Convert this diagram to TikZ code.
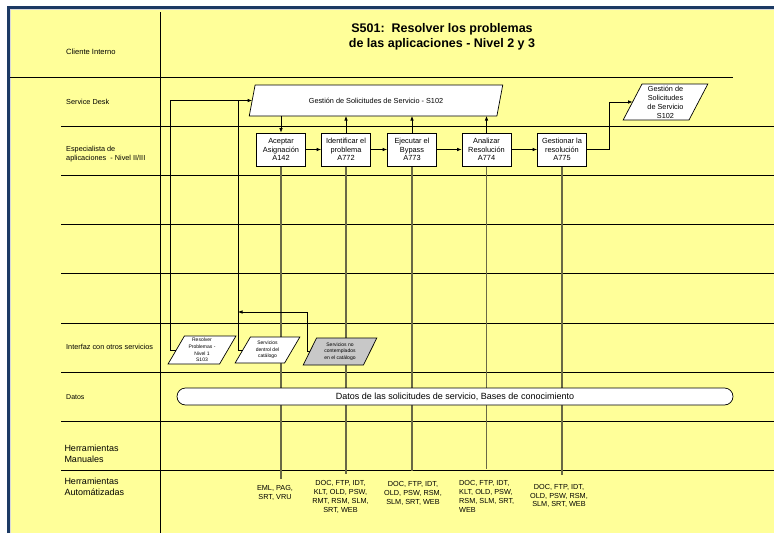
\documentclass[tikz,border=0pt]{standalone}
\usepackage{fontspec}
\setmainfont{Liberation Sans}
\usetikzlibrary{shapes.geometric,arrows.meta}
\pgfdeclarelayer{backdrop}
\pgfdeclarelayer{wires}
\pgfsetlayers{backdrop,wires,main}
\definecolor{laneyellow}{RGB}{255,255,153}
\definecolor{frameblue}{RGB}{28,58,100}
\definecolor{toolline}{RGB}{105,105,70}
\definecolor{extgray}{RGB}{200,200,200}
\begin{document}
\begin{tikzpicture}[x=1pt,y=-1pt,
  lane/.style={line width=0.9pt,black},
  toolwire/.style={line width=1.1pt,toolline,shorten >=6pt},
  flow/.style={line width=0.7pt,-{Latex[length=4.5pt,width=3.6pt]}},
  wire/.style={line width=0.7pt},
  lanelabel/.style={anchor=west,inner sep=0pt,align=left,font=\fontsize{7.3}{9}\selectfont},
  biglabel/.style={anchor=west,inner sep=0pt,align=left,font=\fontsize{9}{10.8}\selectfont},
  activity/.style={draw,fill=white,line width=0.7pt,minimum width=49,minimum height=33,inner sep=0pt,align=center,font=\fontsize{7.4}{8.3}\selectfont},
  pgram/.style={trapezium,trapezium stretches=true,draw,fill=white,line width=0.7pt,inner sep=0.5pt,outer sep=0pt,align=center},
  smallpgram/.style={pgram,font=\fontsize{5}{6.6}\selectfont},
  toollist/.style={inner sep=0pt,align=center,anchor=north,font=\fontsize{7.3}{8.8}\selectfont},
]
\useasboundingbox (0,0) rectangle (774,533);

% page, frame and swimlane grid
\begin{pgfonlayer}{backdrop}
  \fill[white] (0,0) rectangle (774,533);
  \fill[laneyellow] (10,9) rectangle (774,533);
  \draw[black!15,line width=1pt] (10.5,533) -- (10.5,9.5) -- (774,9.5);
  \draw[frameblue,line width=3pt] (8.5,533) -- (8.5,7.5) -- (774,7.5);
  \draw[lane] (10,77) -- (733,77);
  \foreach \yy in {126,175,224,273,323,372,421,470}
    \draw[lane] (61,\yy) -- (774,\yy);
  \draw[lane] (160,12) -- (160,533);
\end{pgfonlayer}

% title
\node[inner sep=0pt,align=center,font=\bfseries\fontsize{12.5}{15}\selectfont] (title) at (442,37)
  {S501:\ \ Resolver los problemas\\de las aplicaciones - Nivel 2 y 3};

% lane labels
\node[lanelabel,font=\fontsize{7.6}{9}\selectfont] (lcli) at (66,51.5) {Cliente Interno};
\node[lanelabel] (lsd) at (66,102) {Service Desk};
\node[lanelabel] (lesp) at (66,154.2) {Especialista de\\aplicaciones\ \ - Nivel II/III};
\node[lanelabel] (lint) at (66,347.3) {Interfaz con otros servicios};
\node[lanelabel,font=\fontsize{7}{9}\selectfont] (ldat) at (66,397.3) {Datos};
\node[biglabel] (lman) at (64.3,453.7) {Herramientas\\Manuales};
\node[biglabel] (laut) at (64.3,486.5) {Herramientas\\Automátizadas};

% Service Desk request management
\node[pgram,trapezium left angle=63,trapezium right angle=117,minimum width=254,minimum height=31,
  font=\fontsize{7.3}{9}\selectfont] (sd) at (376,100.5) {Gestión de Solicitudes de Servicio - S102};
\node[pgram,trapezium left angle=66,trapezium right angle=114,minimum width=85,minimum height=36,
  font=\fontsize{7.3}{9}\selectfont] (gss) at (665.5,102) {Gestión de\\Solicitudes\\de Servicio\\S102};

% activities
\node[activity] (a142) at (281,149.5) {Aceptar\\Asignación\\A142};
\node[activity] (a772) at (346,149.5) {Identificar el\\problema\\A772};
\node[activity] (a773) at (412,149.5) {Ejecutar el\\Bypass\\A773};
\node[activity] (a774) at (486.5,149.5) {Analizar\\Resolución\\A774};
\node[activity] (a775) at (562,149.5) {Gestionar la\\resolución\\A775};

% interfaces with other services
\node[smallpgram,trapezium left angle=62,trapezium right angle=118,minimum width=68,minimum height=28] (res) at (202,350)
  {Resolver\\Problemas -\\Nivel 1\\S103};
\node[smallpgram,trapezium left angle=60,trapezium right angle=120,minimum width=65,minimum height=26] (den) at (267.5,350)
  {Servicios\\dentrol del\\catálogo};
\node[smallpgram,fill=extgray,trapezium left angle=64,trapezium right angle=116,minimum width=74,minimum height=27] (noc) at (340,351.5)
  {Servicios no\\contemplados\\en el catálogo};

% data store
\node[draw,fill=white,line width=0.7pt,rounded corners=8.5pt,minimum width=556,minimum height=17,inner sep=0pt,
  font=\fontsize{9}{10}\selectfont] (db) at (455,396.5) {Datos de las solicitudes de servicio, Bases de conocimiento};

% automated tools
\node[toollist] (t142) at (275,485.3) {EML, PAG,\\SRT, VRU};
\node[toollist] (t772) at (340.5,480.3) {DOC, FTP, IDT,\\KLT, OLD, PSW,\\RMT, RSM, SLM,\\SRT, WEB};
\node[toollist] (t773) at (413,481.3) {DOC, FTP, IDT,\\OLD, PSW, RSM,\\SLM, SRT, WEB};
\node[toollist,anchor=north west,align=left] (t774) at (459,480.3) {DOC, FTP, IDT,\\KLT, OLD, PSW,\\RSM, SLM, SRT,\\WEB};
\node[toollist] (t775) at (559,484) {DOC, FTP, IDT,\\OLD, PSW, RSM,\\SLM, SRT, WEB};

% tool links run behind the shapes
\begin{pgfonlayer}{wires}
  \draw[toolwire] (a142.south) -- (a142.south |- t142.north);
  \draw[toolwire] (a772.south) -- (a772.south |- t772.north);
  \draw[toolwire,shorten >=10pt] (a773.south) -- (a773.south |- t773.north);
  \draw[toolwire,shorten >=11pt] (a774.south) -- (a774.south |- t774.north);
  \draw[toolwire,shorten >=9pt] (a775.south) -- (a775.south |- t775.north);
\end{pgfonlayer}

% process flow
\draw[flow] (a142.north |- sd.bottom side) -- (a142.north);
\draw[flow] (a142) -- (a772);
\draw[flow] (a772) -- (a773);
\draw[flow] (a773) -- (a774);
\draw[flow] (a774) -- (a775);
\draw[flow] (a772.north) -- (a772.north |- sd.bottom side);
\draw[flow] (a773.north) -- (a773.north |- sd.bottom side);
\draw[flow] (a774.north) -- (a774.north |- sd.bottom side);
\draw[flow] (a775.east) -- ++(22,0) |- (gss.left side);

% returns from other services
\draw[flow] (res.left side) -- ++(-5.5,0) |- (sd.left side);
\draw[wire] (den.left side) -- ++(-4.5,0) coordinate (dl) -- (dl |- sd.left side);
\coordinate (mk) at (238,312);
\draw[flow] (noc.left side) -- ++(-2.5,0) |- (mk);
\end{tikzpicture}
\end{document}
